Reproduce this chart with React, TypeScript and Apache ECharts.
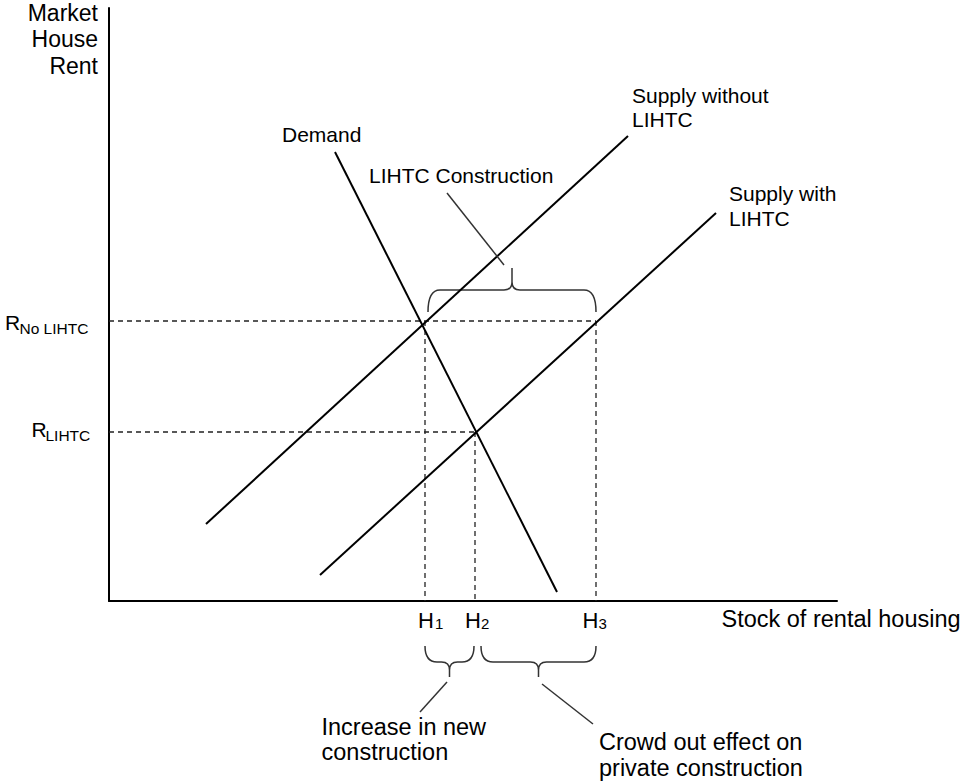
import React, { useEffect, useRef } from "react";
import * as echarts from "echarts";

// Coordinate space of the diagram (abstract units: quantity on x, rent on y)
const X_MAX = 728;
const Y_MAX = 593;

// Curves (two end points each)
const demandLine = [[226, 449], [448, 9]];
const supplyWithoutLine = [[97, 77], [519, 465]];
const supplyWithLine = [[211, 26], [607, 388]];

// Equilibrium quantities H1, H2, H3 and rents
const quantities = [316, 366, 487];
const rentNoLihtc = 280;
const rentLihtc = 169;

// Braces: [x start, x end, y of ends, y of bar, y of tip]
const braces = [
  [319, 487, 289, 311, 333],
  [316, 365, -45, -61, -76],
  [372, 487, -45, -61, -76],
];

// Leader lines from braces to their captions
const leaders = [
  [[395, 336], [338, 408]],
  [[338, -81], [311, -111]],
  [[433, -83], [484, -123]],
];

// Tick labels
const quantityLabels = ["1", "2", "3"];

const FONT = "'Liberation Sans', Arial, Helvetica, sans-serif";

function txt(text: string, x: number, y: number, size: number, align: string = "left") {
  return {
    type: "text",
    x,
    y,
    silent: true,
    style: {
      text,
      fontSize: size,
      fontFamily: FONT,
      fill: "#000",
      align,
      verticalAlign: "middle",
      textAlign: align,
      textVerticalAlign: "middle",
    },
  };
}

function lineSeries(data: number[][], width: number, color: string, dashed = false) {
  return {
    type: "line",
    data,
    symbol: "none",
    clip: false,
    silent: true,
    animation: false,
    lineStyle: { color, width, type: dashed ? [5, 4] : "solid" },
  };
}

export default function App() {
  const ref = useRef<HTMLDivElement>(null);

  useEffect(() => {
    const chart = echarts.init(ref.current!, null, { renderer: "svg" });

    const [h1, h2, h3] = quantities;
    const dashed = [
      [[0, rentNoLihtc], [h3, rentNoLihtc]],
      [[0, rentLihtc], [h2, rentLihtc]],
      [[h1, rentNoLihtc], [h1, 0]],
      [[h2, rentLihtc], [h2, 0]],
      [[h3, rentNoLihtc], [h3, 0]],
    ];

    const axisCommon = {
      type: "value",
      axisLine: { show: true, onZero: false, lineStyle: { color: "#000", width: 2 } },
      axisTick: { show: false },
      axisLabel: { show: false },
      splitLine: { show: false },
    };

    const option: any = {
      animation: false,
      backgroundColor: "#fff",
      grid: { left: 109, right: 127, top: 8, bottom: 182 },
      xAxis: { ...axisCommon, min: 0, max: X_MAX },
      yAxis: { ...axisCommon, min: 0, max: Y_MAX },
      series: [
        ...dashed.map((d) => lineSeries(d, 1.3, "#222", true)),
        lineSeries(demandLine, 2, "#000"),
        lineSeries(supplyWithoutLine, 2, "#000"),
        lineSeries(supplyWithLine, 2, "#000"),
        ...leaders.map((d) => lineSeries(d, 1.5, "#333")),
        {
          type: "custom",
          coordinateSystem: "cartesian2d",
          clip: false,
          silent: true,
          data: braces,
          encode: { x: [0, 1], y: [2, 3, 4] },
          renderItem: (params: any, api: any) => {
            const p1 = api.coord([api.value(0), api.value(2)]);
            const p2 = api.coord([api.value(1), api.value(2)]);
            const yM = api.coord([api.value(0), api.value(3)])[1];
            const yT = api.coord([api.value(0), api.value(4)])[1];
            const X1 = p1[0];
            const X2 = p2[0];
            const YE = p1[1];
            const Xc = (X1 + X2) / 2;
            const re = Math.min(12, (X2 - X1) / 4);
            const s = yT < yM ? -1 : 1;
            const rt = Math.min(8, Math.abs(yT - yM) * 0.6);
            const d =
              `M${X1},${YE} Q${X1},${yM} ${X1 + re},${yM} L${Xc - rt},${yM} ` +
              `Q${Xc},${yM} ${Xc},${yM + s * rt} L${Xc},${yT} ` +
              `M${Xc},${yM + s * rt} Q${Xc},${yM} ${Xc + rt},${yM} L${X2 - re},${yM} ` +
              `Q${X2},${yM} ${X2},${YE}`;
            return {
              type: "path",
              shape: { pathData: d },
              style: { stroke: "#333", fill: "none", lineWidth: 1.5 },
            };
          },
        },
      ],
      graphic: {
        elements: [
          txt("Market", 98, 12.5, 23, "right"),
          txt("House", 98, 39, 23, "right"),
          txt("Rent", 98, 66, 23, "right"),
          txt("Demand", 282, 134, 21),
          txt("LIHTC Construction", 369, 175.5, 21),
          txt("Supply without", 632, 95, 21),
          txt("LIHTC", 632, 119, 21),
          txt("Supply with", 729, 193, 21),
          txt("LIHTC", 729, 218, 21),
          txt("R", 5, 322.5, 21),
          txt("No LIHTC", 19.5, 328.5, 15.5),
          txt("R", 31.5, 429.5, 21),
          txt("LIHTC", 45.5, 435.5, 15.5),
          txt("H", 418, 620, 22),
          txt(quantityLabels[0], 435, 623.5, 15),
          txt("H", 465, 620, 22),
          txt(quantityLabels[1], 481, 623.5, 15),
          txt("H", 582.5, 620, 22),
          txt(quantityLabels[2], 598.5, 623.5, 15),
          txt("Stock of rental housing", 721.5, 618.5, 23.5),
          txt("Increase in new", 321.5, 726.5, 23.5),
          txt("construction", 321.5, 751.5, 23.5),
          txt("Crowd out effect on", 599, 741.5, 23.5),
          txt("private construction", 599, 767.5, 23.5),
        ],
      },
    };

    chart.setOption(option);
    return () => chart.dispose();
  }, []);

  return (
    <div
      ref={ref}
      style={{ position: "fixed", left: 0, top: 0, width: 964, height: 783, background: "#fff" }}
    />
  );
}
